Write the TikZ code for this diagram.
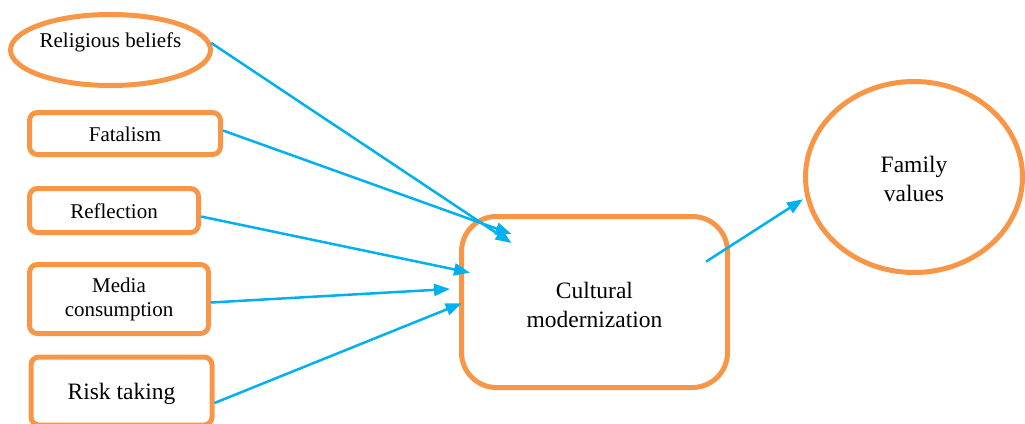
\documentclass[tikz,border=0pt]{standalone}
\usepackage{fontspec}
\setmainfont{Liberation Serif}
\usetikzlibrary{shapes.geometric,arrows.meta}
\definecolor{boxorange}{HTML}{F79646}
\definecolor{linkblue}{HTML}{00B0F0}
\begin{document}
\begin{tikzpicture}[x=1pt,y=-1pt,
  smalltext/.style={font=\fontsize{21}{24}\selectfont},
  bigtext/.style={font=\fontsize{23.5}{29}\selectfont},
  factor/.style={draw=boxorange, line width=5pt, rounded corners=8pt, inner sep=0pt, align=center, smalltext},
  oval/.style={draw=boxorange, line width=5pt, ellipse, inner sep=0pt, align=center},
  link/.style={draw=linkblue, line width=2.5pt, -{Triangle[length=16pt,width=12pt]}}
]
\useasboundingbox (0,0) rectangle (1025,423);

% predictors
\node[oval, minimum width=200pt, minimum height=71pt] (rel) at (110.5,50) {};
\node[smalltext] (relt) at (110.5,42) {Religious beliefs};
\node[factor, minimum width=191pt, minimum height=42pt] (fat) at (125,133.5) {\raisebox{-2pt}[14pt][3pt]{Fatalism}};
\node[factor, minimum width=169pt, minimum height=44pt] (refl) at (114,210.5) {\raisebox{-2pt}[14pt][3pt]{Reflection}};
\node[factor, minimum width=179pt, minimum height=69pt] (media) at (119,299) {Media\\consumption};
\node[factor, bigtext, minimum width=181pt, minimum height=68pt] (risk) at (121.5,391) {\raisebox{-2pt}[16pt][4pt]{Risk taking}};

% mediator and outcome
\node[draw=boxorange, line width=5pt, rounded corners=35pt, inner sep=0pt,
      minimum width=266pt, minimum height=171pt] (cult) at (594.5,302) {};
\node[bigtext, align=center] (cultt) at (594.5,304.5) {Cultural\\modernization};
\node[oval, minimum width=217pt, minimum height=191pt] (fam) at (914,177) {};
\node[bigtext, align=center] (famt) at (914,179) {Family\\values};

% arrow end points inside the mediator box
\coordinate (t1) at (511.5,243);
\coordinate (t2) at (511.5,234);
\coordinate (t3) at (470,272.7);
\coordinate (t4) at (450,289);
\coordinate (t5) at (461.7,303.3);
\coordinate (s6) at (706,261.7);

\draw[link] (rel.4) -- (t1);
\draw[link] ([yshift=3pt]fat.east) -- (t2);
\draw[link] ([yshift=-6pt]refl.east) -- (t3);
\draw[link] ([yshift=-3.5pt]media.east) -- (t4);
\draw[link] ([yshift=-12pt]risk.east) -- (t5);
\draw[link] (s6) -- (fam.west |- 0,199.3);
\end{tikzpicture}
\end{document}
